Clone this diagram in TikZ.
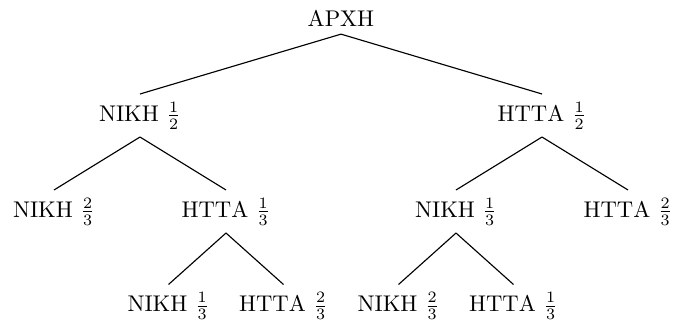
\documentclass[tikz,border=0pt]{standalone}
\usepackage{fontspec}
\begin{document}
\begin{tikzpicture}[x=0.4406pt, y=-0.4406pt,
  outcome/.style={inner sep=3.33pt},
  branch/.style={line width=0.5pt}]
\useasboundingbox (0,0) rectangle (674,325);
% root
\node[outcome] (r) at (341,18) {ΑΡΧΗ};
% first draw
\node[outcome] (a) at (140,115.5) {ΝΙΚΗ $\frac{1}{2}$};
\node[outcome] (b) at (542,115.5) {ΗΤΤΑ $\frac{1}{2}$};
% second draw
\node[outcome] (a1) at (54,211.5) {ΝΙΚΗ $\frac{2}{3}$};
\node[outcome] (a2) at (226,211.5) {ΗΤΤΑ $\frac{1}{3}$};
\node[outcome] (b1) at (456,211.5) {ΝΙΚΗ $\frac{1}{3}$};
\node[outcome] (b2) at (628,211.5) {ΗΤΤΑ $\frac{2}{3}$};
% third draw
\node[outcome] (a21) at (168.5,306) {ΝΙΚΗ $\frac{1}{3}$};
\node[outcome] (a22) at (283.5,306) {ΗΤΤΑ $\frac{2}{3}$};
\node[outcome] (b11) at (398.5,306) {ΝΙΚΗ $\frac{2}{3}$};
\node[outcome] (b12) at (513.5,306) {ΗΤΤΑ $\frac{1}{3}$};
% branches
\foreach \p/\c in {r/a, r/b, a/a1, a/a2, b/b1, b/b2, a2/a21, a2/a22, b1/b11, b1/b12}
  \draw[branch] (\p.south) -- (\c.north);
\end{tikzpicture}
\end{document}
